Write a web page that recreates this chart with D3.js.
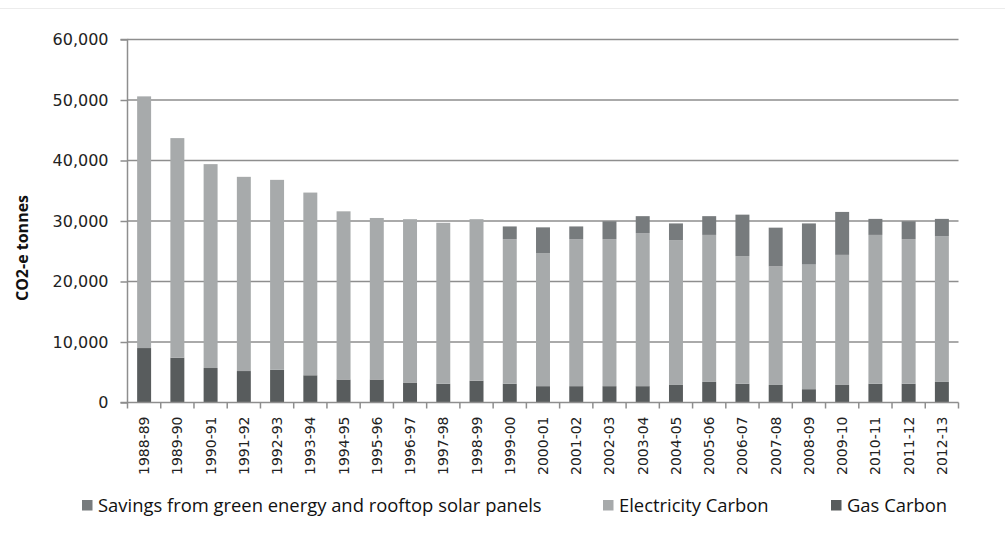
<!DOCTYPE html>
<html>
<head>
<meta charset="utf-8">
<script src="https://cdn.jsdelivr.net/npm/d3@7"></script>
<style>
  html, body { margin: 0; padding: 0; background: #fff; }
  svg { display: block; }
</style>
</head>
<body>
<svg id="chart" width="1005" height="534"></svg>
<script>
// Financial years
const years = ["1988-89","1989-90","1990-91","1991-92","1992-93","1993-94","1994-95","1995-96",
  "1996-97","1997-98","1998-99","1999-00","2000-01","2001-02","2002-03","2003-04","2004-05",
  "2005-06","2006-07","2007-08","2008-09","2009-10","2010-11","2011-12","2012-13"];

// CO2-e tonnes per component (stacked bottom to top: gas, electricity, savings)
const gasCarbon = [9000,7400,5700,5200,5400,4500,3800,3800,3300,3100,3600,3100,2700,2700,2700,
  2700,2900,3400,3100,2900,2200,2900,3100,3100,3400];
const electricityCarbon = [41600,36300,33700,32100,31400,30200,27800,26700,27000,26600,26700,
  23900,22000,24300,24300,25300,23900,24300,21100,19600,20600,21500,24600,23900,24100];
const greenSavings = [0,0,0,0,0,0,0,0,0,0,0,2100,4250,2100,2950,2800,2800,3100,6850,6400,6800,
  7100,2650,2950,2850];

const yTicks = [0,10000,20000,30000,40000,50000,60000];

const seriesNames = ["Gas Carbon","Electricity Carbon","Savings from green energy and rooftop solar panels"];
const seriesColors = ["#585c5d","#a7aaab","#777b7d"];
const legendOrder = [2,1,0];

const svg = d3.select("#chart");

// faint frame line along the top
svg.append("line").attr("x1",0).attr("x2",1005).attr("y1",8.5).attr("y2",8.5)
  .attr("stroke","#ececec").attr("stroke-width",1);

const plot = {left:127.5, right:958.5, top:39.5, bottom:402.5};

const x = d3.scaleBand().domain(years).range([plot.left, plot.right]).paddingInner(0.58).paddingOuter(0.29);
const y = d3.scaleLinear().domain([0,60000]).range([plot.bottom, plot.top]);

const rows = years.map((yr,i) => ({year:yr, gas:gasCarbon[i], elec:electricityCarbon[i], sav:greenSavings[i]}));
const stack = d3.stack().keys(["gas","elec","sav"])(rows);

// gridlines
svg.append("g").selectAll("line").data(yTicks.filter(t => t > 0)).join("line")
  .attr("x1", plot.left).attr("x2", plot.right)
  .attr("y1", d => y(d)).attr("y2", d => y(d))
  .attr("stroke","#8e8e8e").attr("stroke-width",1.5);

// bars
svg.append("g").selectAll("g").data(stack).join("g")
  .attr("fill", (d,i) => seriesColors[i])
  .selectAll("rect").data(d => d).join("rect")
  .attr("x", d => x(d.data.year))
  .attr("width", x.bandwidth())
  .attr("y", d => y(d[1]))
  .attr("height", d => Math.max(0, y(d[0]) - y(d[1])));

// y axis
const yAxis = d3.axisLeft(y).tickValues(yTicks).tickFormat(d3.format(",")).tickSize(7).tickPadding(12);
const gy = svg.append("g").attr("transform", `translate(${plot.left},0)`).call(yAxis);
gy.select(".domain").attr("stroke","#8e8e8e").attr("stroke-width",1.5).attr("d", `M-7,${plot.top}H0V${plot.bottom}H-7`);
gy.selectAll(".tick line").attr("stroke","#8e8e8e").attr("stroke-width",1.5);
gy.selectAll(".tick text").attr("font-family","DejaVu Sans, Verdana, sans-serif").attr("font-size",16).attr("fill","#222");

// x axis: ticks on category boundaries
const gx = svg.append("g").attr("transform", `translate(0,${plot.bottom})`);
gx.append("line").attr("x1", plot.left).attr("x2", plot.right).attr("y1",0).attr("y2",0)
  .attr("stroke","#8e8e8e").attr("stroke-width",1.5);
const step = x.step();
const boundaries = d3.range(years.length + 1).map(i => plot.left + i * step);
gx.selectAll("line.tk").data(boundaries).join("line").attr("class","tk")
  .attr("x1", d => d).attr("x2", d => d).attr("y1",0).attr("y2",6)
  .attr("stroke","#8e8e8e").attr("stroke-width",1.5);
gx.selectAll("text").data(years).join("text")
  .attr("transform", d => `translate(${x(d) + x.bandwidth()/2 + 5},14) rotate(-90)`)
  .attr("text-anchor","end")
  .attr("font-family","DejaVu Sans, Verdana, sans-serif").attr("font-size",14).attr("fill","#222")
  .text(d => d);

// y axis title
svg.append("text")
  .attr("transform", "translate(28,248) rotate(-90)")
  .attr("text-anchor","middle")
  .attr("font-family","Open Sans, sans-serif").attr("font-weight","bold").attr("font-size",16)
  .attr("fill","#111")
  .text("CO2-e tonnes");

// legend
const legendX = [82, 603, 831];
const lg = svg.append("g").selectAll("g").data(legendOrder).join("g")
  .attr("transform", (d,i) => `translate(${legendX[i]},500)`);
lg.append("rect").attr("width",10.5).attr("height",10.5).attr("fill", d => seriesColors[d]);
lg.append("text").attr("x",16).attr("y",11.5)
  .attr("font-family","Open Sans, sans-serif").attr("font-size",18.4).attr("fill","#111")
  .text(d => seriesNames[d]);
</script>
</body>
</html>
